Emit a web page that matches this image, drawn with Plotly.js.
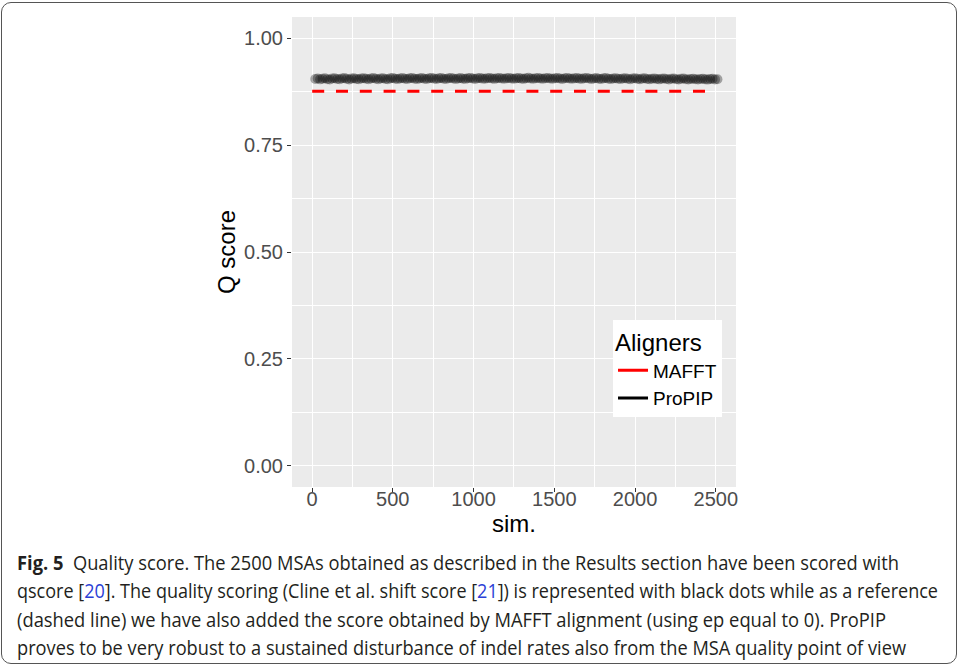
<!DOCTYPE html>
<html>
<head>
<meta charset="utf-8">
<script src="https://cdn.plot.ly/plotly-3.0.1.min.js"></script>
<style>
  html, body { margin:0; padding:0; background:#ffffff; }
  #wrap { position:relative; width:959px; height:666px; overflow:hidden; }
  #chart { position:absolute; left:0; top:0; width:959px; height:666px; }
  #frame { position:absolute; left:1px; top:2px; width:954px; height:660px;
           border:1.5px solid #555555; border-radius:10px; pointer-events:none; }
  .cap { position:absolute; left:17px; white-space:nowrap; transform-origin:0 50%;
         font-family:"Open Sans","Noto Sans",sans-serif; font-size:20px; line-height:28px;
         color:#231f20; }
  .cap b { font-weight:700; }
  .cap .ref { color:#2b3fd6; }
</style>
</head>
<body>
<div id="wrap">
  <div id="chart"></div>
  <div id="frame"></div>
  <div class="cap" id="l1" data-right="899" style="top:549px;"><b>Fig. 5</b>&nbsp; Quality score. The 2500 MSAs obtained as described in the Results section have been scored with</div>
  <div class="cap" id="l2" data-right="938" style="top:577px;">qscore [<span class="ref">20</span>]. The quality scoring (Cline et al. shift score [<span class="ref">21</span>]) is represented with black dots while as a reference</div>
  <div class="cap" id="l3" data-right="886" style="top:606px;">(dashed line) we have also added the score obtained by MAFFT alignment (using ep equal to 0). ProPIP</div>
  <div class="cap" id="l4" data-right="906" style="top:634px;">proves to be very robust to a sustained disturbance of indel rates also from the MSA quality point of view</div>
</div>
<script>
// ---- data ----
const propipSim = [20,35,50,65,80,95,110,125,140,155,170,185,200,215,230,245,260,275,290,305,
  320,335,350,365,380,395,410,425,440,455,470,485,500,515,530,545,560,575,590,605,
  620,635,650,665,680,695,710,725,740,755,770,785,800,815,830,845,860,875,890,905,
  920,935,950,965,980,995,1010,1025,1040,1055,1070,1085,1100,1115,1130,1145,1160,1175,1190,1205,
  1220,1235,1250,1265,1280,1295,1310,1325,1340,1355,1370,1385,1400,1415,1430,1445,1460,1475,1490,1505,
  1520,1535,1550,1565,1580,1595,1610,1625,1640,1655,1670,1685,1700,1715,1730,1745,1760,1775,1790,1805,
  1820,1835,1850,1865,1880,1895,1910,1925,1940,1955,1970,1985,2000,2015,2030,2045,2060,2075,2090,2105,
  2120,2135,2150,2165,2180,2195,2210,2225,2240,2255,2270,2285,2300,2315,2330,2345,2360,2375,2390,2405,
  2420,2435,2450,2465,2480,2495,2510];
const propipQ = [0.9050,0.9062,0.9041,0.9055,0.9068,0.9046,0.9038,0.9059,0.9066,0.9049,
  0.9043,0.9061,0.9070,0.9052,0.9040,0.9058,0.9067,0.9051,0.9044,0.9063,
  0.9069,0.9053,0.9042,0.9060,0.9071,0.9055,0.9045,0.9062,0.9068,0.9050,
  0.9046,0.9064,0.9072,0.9056,0.9047,0.9061,0.9070,0.9054,0.9048,0.9065,
  0.9073,0.9057,0.9049,0.9063,0.9071,0.9055,0.9050,0.9066,0.9074,0.9058,
  0.9048,0.9064,0.9072,0.9056,0.9051,0.9067,0.9073,0.9059,0.9050,0.9062,
  0.9070,0.9057,0.9052,0.9068,0.9075,0.9060,0.9051,0.9065,0.9072,0.9058,
  0.9053,0.9069,0.9074,0.9061,0.9052,0.9066,0.9073,0.9059,0.9054,0.9067,
  0.9075,0.9062,0.9053,0.9064,0.9071,0.9058,0.9052,0.9068,0.9076,0.9061,
  0.9054,0.9066,0.9073,0.9060,0.9053,0.9069,0.9074,0.9062,0.9055,0.9065,
  0.9072,0.9059,0.9051,0.9067,0.9075,0.9061,0.9053,0.9064,0.9071,0.9058,
  0.9052,0.9066,0.9073,0.9060,0.9050,0.9063,0.9070,0.9057,0.9049,0.9064,
  0.9071,0.9056,0.9048,0.9062,0.9069,0.9055,0.9047,0.9060,0.9068,0.9054,
  0.9045,0.9059,0.9066,0.9052,0.9044,0.9058,0.9065,0.9050,0.9042,0.9056,
  0.9063,0.9049,0.9041,0.9055,0.9062,0.9047,0.9040,0.9053,0.9060,0.9046,
  0.9038,0.9052,0.9059,0.9045,0.9037,0.9050,0.9057,0.9043,0.9036,0.9049,
  0.9055,0.9041,0.9035,0.9048,0.9053,0.9040,0.9044];
const mafftSim = [1, 2500];
const mafftQ = [0.876, 0.876];
const xTicks = [0, 500, 1000, 1500, 2000, 2500];
const xTickText = ['0', '500', '1000', '1500', '2000', '2500'];
const yTicks = [0, 0.25, 0.5, 0.75, 1.0];
const yTickText = ['0.00', '0.25', '0.50', '0.75', '1.00'];

const FONT = '"Liberation Sans", Arial, sans-serif';

const traces = [
  { x: mafftSim, y: mafftQ, type: 'scatter', mode: 'lines', name: 'MAFFT',
    legendgroup: 'MAFFT', showlegend: false, hoverinfo: 'x+y',
    line: { color: '#ff0000', width: 3, dash: '12px,11.8px' } },
  { x: propipSim, y: propipQ, type: 'scatter', mode: 'markers', name: 'ProPIP',
    legendgroup: 'ProPIP', showlegend: false,
    marker: { color: '#000000', size: 10, opacity: 0.32, line: { width: 0 } } },
  { x: [null], y: [null], type: 'scatter', mode: 'lines', name: 'MAFFT',
    legendgroup: 'MAFFT', showlegend: true, line: { color: '#ff0000', width: 3 } },
  { x: [null], y: [null], type: 'scatter', mode: 'lines', name: 'ProPIP',
    legendgroup: 'ProPIP', showlegend: true, line: { color: '#000000', width: 3 } }
];

const layout = {
  width: 959, height: 666,
  margin: { l: 292, r: 223, t: 17, b: 179, pad: 0 },
  paper_bgcolor: 'rgba(0,0,0,0)',
  plot_bgcolor: '#ebebeb',
  font: { family: FONT, color: '#000000' },
  showlegend: true,
  legend: {
    x: 0.723, y: 0.355, xanchor: 'left', yanchor: 'top',
    bgcolor: '#ffffff', borderwidth: 0,
    font: { family: FONT, size: 19, color: '#000000' },
    title: { text: 'Aligners', font: { family: FONT, size: 24, color: '#000000' } },
    itemwidth: 30, tracegroupgap: 0
  },
  xaxis: {
    range: [-124, 2625], autorange: false,
    tickmode: 'array', tickvals: xTicks, ticktext: xTickText,
    ticks: 'outside', ticklen: 4, tickwidth: 1.1, tickcolor: '#333333',
    ticklabelstandoff: -10,
    tickfont: { family: FONT, size: 20, color: '#4d4d4d' },
    showgrid: true, gridcolor: '#ffffff', gridwidth: 1.1,
    minor: { tickmode: 'array', tickvals: [250, 750, 1250, 1750, 2250], showgrid: true,
             gridcolor: '#ffffff', gridwidth: 0.55, ticks: '' },
    zeroline: false, showline: false,
    title: { text: 'sim.', standoff: 4, font: { family: FONT, size: 24, color: '#000000' } }
  },
  yaxis: {
    range: [-0.05, 1.05], autorange: false,
    tickmode: 'array', tickvals: yTicks, ticktext: yTickText,
    ticks: 'outside', ticklen: 4, tickwidth: 1.1, tickcolor: '#333333',
    tickfont: { family: FONT, size: 20, color: '#4d4d4d' },
    showgrid: true, gridcolor: '#ffffff', gridwidth: 1.1,
    minor: { tickmode: 'array', tickvals: [0.125, 0.375, 0.625, 0.875], showgrid: true,
             gridcolor: '#ffffff', gridwidth: 0.55, ticks: '' },
    zeroline: false, showline: false,
    title: { text: 'Q score', standoff: 1, font: { family: FONT, size: 24, color: '#000000' } }
  }
};

Plotly.newPlot('chart', traces, layout, { displayModeBar: false }).then(() => {
  document.querySelectorAll('.cap').forEach(el => {
    const w = el.getBoundingClientRect().width;
    const target = parseFloat(el.dataset.right) - 17;
    el.style.transform = 'scaleX(' + (target / w) + ')';
  });
});
</script>
</body>
</html>
